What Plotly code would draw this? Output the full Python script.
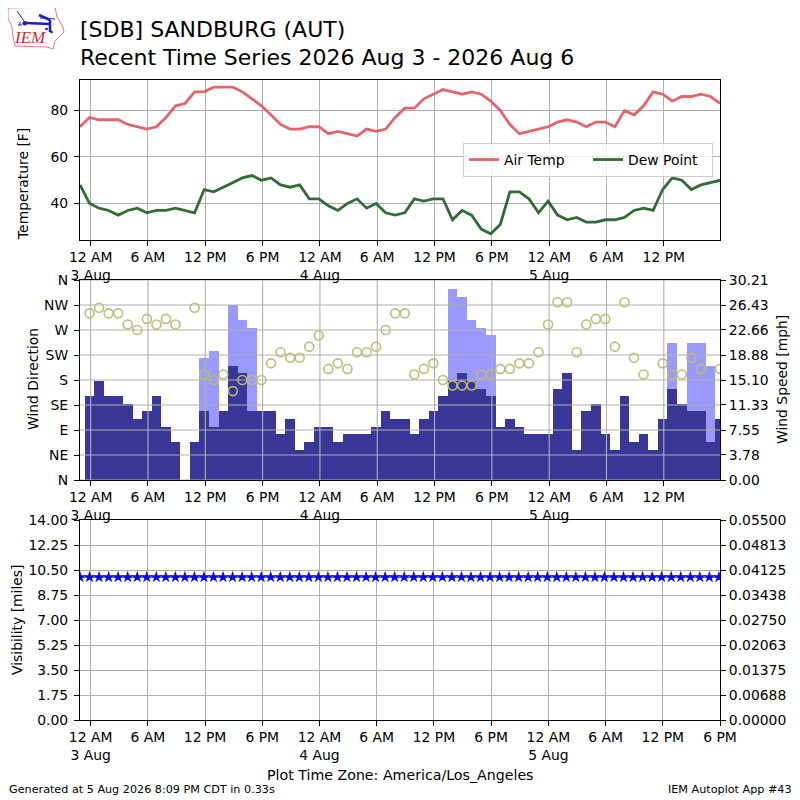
import pandas as pd
import plotly.graph_objects as go

FONT = "DejaVu Sans"
GRID = "#b0b0b0"
TICK_SIZE = 13.9

start = pd.Timestamp("2026-08-02 22:53")
times = [start + pd.Timedelta(hours=i) for i in range(68)]

air_temp = [73, 77, 76, 76, 76, 74, 73, 72, 73, 77, 82, 83, 88, 88, 90, 90, 90, 88, 85, 82,
            78, 74, 72, 72, 73, 73, 70, 71, 70, 69, 72, 71, 72, 77, 81, 81, 85, 87, 89, 88,
            87, 88, 87, 84, 80, 74, 70, 71, 72, 73, 75, 76, 75, 73, 75, 75, 73, 80, 78, 82,
            88, 87, 84, 86, 86, 87, 86, 83]
dew_point = [48, 40, 38, 37, 35, 37, 38, 36, 37, 37, 38, 37, 36, 46, 45, 47, 49, 51, 52, 50,
             51, 48, 47, 48, 42, 42, 39, 37, 40, 42, 38, 40, 36, 35, 36, 42, 41, 42, 42, 33,
             37, 35, 29, 27, 31, 45, 45, 42, 36, 41, 35, 33, 34, 32, 32, 33, 33, 34, 37, 38,
             37, 46, 51, 50, 46, 48, 49, 50]

# mph, None where no report
wind_speed = [None, 12.66, 14.95, 12.66, 12.66, 11.5, 9.2, 10.36, 12.66, 8.05, 5.75, 0, 5.75,
              10.36, 8.05, 10.36, 17.26, 16.1, 10.36, 10.36, 10.36, 6.9, 9.2, 4.6, 5.75, 8.05,
              8.05, 5.75, 6.9, 6.9, 6.9, 8.05, 10.36, 9.2, 9.2, 6.9, 9.2, 10.36, 12.66, 14.95,
              16.1, 14.95, 13.8, 12.66, 8.05, 9.2, 8.05, 6.9, 6.9, 6.9, 13.8, 16.1, 4.6, 10.36,
              11.5, 6.9, 4.6, 12.66, 5.75, 6.9, 4.6, 9.2, 13.8, 11.5, 10.36, 10.36, 5.75, 9.2]
wind_gust = [None] * 68
for i, g in [(13, 18.4), (14, 19.56), (16, 26.5), (17, 24.2), (18, 23.0), (39, 28.8), (40, 27.6),
             (41, 24.2), (42, 23.0), (43, 21.86), (62, 20.7), (64, 20.7), (65, 20.7), (66, 17.26)]:
    wind_gust[i] = g
wind_dir = [None, 300, 310, 300, 300, 280, 270, 290, 280, 290, 280, None, 310, 190, 180, 190, 160,
            180, 180, 180, 210, 230, 220, 220, 240, 260, 200, 210, 200, 230, 230, 240, 270, 300,
            300, 190, 200, 210, 180, 170, 170, 170, 190, 190, 200, 200, 210, 210, 230, 280, 320,
            320, 230, 280, 290, 290, 240, 320, 220, 190, None, 210, 190, 190, 220, 200, None, 200]
visibility = [10] * 68

hour_ticks = pd.date_range("2026-08-03 00:00", "2026-08-05 18:00", freq="6h")
hour_labels = ["12 AM<br>3 Aug", "6 AM", "12 PM", "6 PM", "12 AM<br>4 Aug", "6 AM", "12 PM", "6 PM",
               "12 AM<br>5 Aug", "6 AM", "12 PM", "6 PM"]
dir_ticks = [0, 45, 90, 135, 180, 225, 270, 315, 360]
dir_labels = ["N", "NE", "E", "SE", "S", "SW", "W", "NW", "N"]
speed_ticks = [0, 3.78, 7.55, 11.33, 15.10, 18.88, 22.66, 26.43, 30.21]
vis_ticks = [0, 1.75, 3.5, 5.25, 7, 8.75, 10.5, 12.25, 14]
ceil_ticks = [0, 0.006875, 0.01375, 0.020625, 0.0275, 0.034375, 0.04125, 0.048125, 0.055]
ceil_labels = ["0.00000", "0.00688", "0.01375", "0.02063", "0.02750", "0.03438", "0.04125", "0.04813", "0.05500"]

x_end = start + pd.Timedelta(hours=67)

# logo outline and wind barb, in page pixels
logo_outline = [(8, 8), (55, 7), (57, 17), (63, 27), (64, 32), (55, 41), (53, 49), (47, 47), (15, 46), (13, 37), (12, 27), (8, 18)]
logo_thick = [[(25, 23), (50, 24)], [(39, 15), (50, 20)], [(50, 20), (50, 32)], [(46, 28), (47, 30)], [(51, 31), (52, 33)]]
logo_thin = [[(17, 11), (24, 21)], [(40, 18), (55, 19)], [(18, 25), (22, 25)], [(20, 22), (20, 25)]]


# the page puts the figure 8px in from the top left, these take page pixels to paper
def px(x):
    return (x - 80) / 640


def py(y):
    return (720 - y) / 640


def segment(points, color, width):
    (x0, y0), (x1, y1) = points
    return dict(type="line", xref="paper", yref="paper", x0=px(x0), y0=py(y0), x1=px(x1), y1=py(y1),
                line=dict(color=color, width=width))


def label(text, x, y, size=TICK_SIZE, color="black", angle=0, xanchor="center", family=FONT):
    return dict(text=text, xref="paper", yref="paper", x=px(x), y=py(y), showarrow=False, xanchor=xanchor,
                yanchor="middle", textangle=angle, font=dict(size=size, color=color, family=family))


def style_x(ax, end, ticks, labels, grid=True):
    return dict(ax, range=[start, end], tickvals=ticks, ticktext=labels, ticks="outside", ticklen=5,
                tickwidth=1.1, tickcolor="black", showline=True, linecolor="black", linewidth=1.1,
                mirror=True, showgrid=grid, gridcolor=GRID, gridwidth=1.1, tickfont=dict(size=TICK_SIZE),
                zeroline=False, ticklabelstandoff=-1)


def style_y(ax, rng, ticks, labels=None):
    return dict(ax, range=rng, tickvals=ticks, ticktext=labels if labels else [f"{t:.2f}" for t in ticks],
                ticks="outside", ticklen=5, tickwidth=1.1, tickcolor="black", showline=True,
                linecolor="black", linewidth=1.1, zeroline=False, tickfont=dict(size=TICK_SIZE))


fig = go.Figure()

# top: temperature
fig.add_trace(go.Scatter(x=times, y=air_temp, name="Air Temp", mode="lines", xaxis="x", yaxis="y",
                         line=dict(color="#e2646c", width=2.8)))
fig.add_trace(go.Scatter(x=times, y=dew_point, name="Dew Point", mode="lines", xaxis="x", yaxis="y",
                         line=dict(color="#336b36", width=2.8)))

# middle: bars first, grid on top of them, then the direction circles on the overlay axis
fig.add_trace(go.Bar(x=times, y=wind_gust, xaxis="x2", yaxis="y3", width=3600000, marker=dict(color="#9999ff", line_width=0),
                     showlegend=False, name="Gust"))
fig.add_trace(go.Bar(x=times, y=wind_speed, xaxis="x2", yaxis="y3", width=3600000, marker=dict(color="#3a3697", line_width=0),
                     showlegend=False, name="Wind Speed"))
grid_x, grid_y = [], []
for t in hour_ticks[:-1]:
    grid_x += [t, t, None]
    grid_y += [0, 30.21, None]
for s in speed_ticks:
    grid_x += [start, x_end, None]
    grid_y += [s, s, None]
fig.add_trace(go.Scatter(x=grid_x, y=grid_y, mode="lines", xaxis="x2", yaxis="y3", showlegend=False, hoverinfo="skip",
                         line=dict(color=GRID, width=1.1)))
fig.add_trace(go.Scatter(x=times, y=wind_dir, mode="markers", xaxis="x2", yaxis="y4", showlegend=False, name="Wind Direction",
                         marker=dict(symbol="circle-open", size=9, color="#bcbc78", line=dict(width=1.6, color="#bcbc78"))))

# bottom: visibility, ceiling axis has no data
fig.add_trace(go.Scatter(x=times, y=visibility, mode="lines+markers", xaxis="x3", yaxis="y5", showlegend=False, name="Visibility",
                         line=dict(color="blue", width=1), marker=dict(symbol="star", size=9, color="blue", line_width=0)))
fig.add_trace(go.Scatter(x=times, y=[None] * 68, mode="lines", xaxis="x3", yaxis="y6", showlegend=False, name="Ceiling"))

shapes = [dict(type="path", xref="paper", yref="paper", line=dict(color="#e87878", width=1),
               path="M " + " L ".join(f"{px(x)} {py(y)}" for x, y in logo_outline) + " Z")]
shapes += [segment(p, "#1c1cc8", 2.5) for p in logo_thick]
shapes += [segment(p, "#1c1cc8", 1) for p in logo_thin]
shapes.append(dict(type="circle", xref="paper", yref="paper", x0=px(22.5), y0=py(21), x1=px(27), y1=py(25.5),
                   fillcolor="#1c1cc8", line_width=0))

fig.update_layout(
    width=792, height=792, margin=dict(l=72, r=80, t=72, b=80), plot_bgcolor="white", paper_bgcolor="white",
    font=dict(family=FONT, size=TICK_SIZE, color="black"), barmode="overlay", bargap=0,
    title=dict(text="[SDB] SANDBURG (AUT)<br>Recent Time Series 2026 Aug 3 - 2026 Aug 6", x=72 / 792, xanchor="left",
               y=0.964, yanchor="top", font=dict(size=22)),
    legend=dict(orientation="h", x=px(713), xanchor="right", y=py(160), yanchor="middle", bgcolor="rgba(255,255,255,0.8)",
                bordercolor="#cccccc", borderwidth=1, font=dict(size=TICK_SIZE), entrywidth=79, entrywidthmode="pixels"),
    shapes=shapes,
    xaxis=style_x(dict(anchor="y"), x_end, hour_ticks[:-1], hour_labels[:-1]),
    xaxis2=style_x(dict(anchor="y3"), x_end, hour_ticks[:-1], hour_labels[:-1], grid=False),
    xaxis3=style_x(dict(anchor="y5"), pd.Timestamp("2026-08-05 18:00"), hour_ticks, hour_labels),
    yaxis=style_y(dict(domain=[0.75, 1.0], anchor="x", mirror=True, showgrid=True, gridcolor=GRID, gridwidth=1.1, ticklabelstandoff=3),
                  [24.3, 93.1], [40, 60, 80], ["40", "60", "80"]),
    yaxis3=style_y(dict(domain=[0.375, 0.6875], anchor="x2", side="right", showgrid=False), [0, 30.21], speed_ticks),
    yaxis4=style_y(dict(overlaying="y3", anchor="x2", side="left", showgrid=False, ticklabelstandoff=3), [0, 360], dir_ticks, dir_labels),
    yaxis5=style_y(dict(domain=[0.0, 0.3125], anchor="x3", side="left", showgrid=True, gridcolor=GRID, gridwidth=1.1, ticklabelstandoff=3),
                   [0, 14], vis_ticks),
    yaxis6=style_y(dict(overlaying="y5", anchor="x3", side="right", showgrid=False), [0, 0.055], ceil_ticks, ceil_labels),
    annotations=[
        label("Temperature [F]", 23, 184, angle=-90),
        label("Wind Direction", 33, 379, angle=-90),
        label("Wind Speed [mph]", 782, 380, angle=-90),
        label("Visibility [miles]", 17, 620, angle=-90),
        label("Overcast Ceiling [k ft]", 799, 620, color="green", angle=-90),
        label("Plot Time Zone: America/Los_Angeles", 400, 775, size=14.2),
        label("Generated at 5 Aug 2026 8:09 PM CDT in 0.33s", 7, 789, size=11.2, xanchor="left"),
        label("IEM Autoplot App #43", 794, 789, size=11.2, xanchor="right"),
        label("<i>IEM</i>", 30, 38, size=17, color="#d62728", family="Liberation Serif"),
    ],
)

fig.write_html("out.html")
